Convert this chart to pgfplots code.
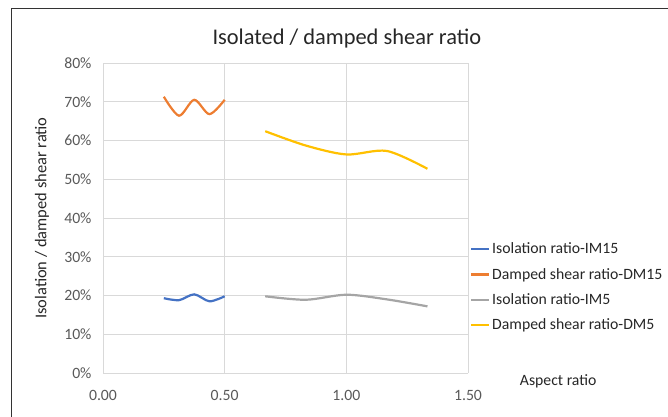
\documentclass[border=0pt]{standalone}
\usepackage{pgfplots}
\pgfplotsset{compat=1.18}
\usepackage{fontspec}
\setmainfont{Carlito}
\definecolor{exblue}{HTML}{4472C4}
\definecolor{exorange}{HTML}{ED7D31}
\definecolor{exgray}{HTML}{A5A5A5}
\definecolor{exyellow}{HTML}{FFC000}
\definecolor{gridc}{HTML}{D9D9D9}
\definecolor{tickc}{HTML}{595959}
\definecolor{textc}{HTML}{262626}
\begin{document}
\begin{tikzpicture}[x=1bp,y=1bp]
\path[use as bounding box] (0,0) rectangle (668,416);
\draw[color=black!80, line width=1bp] (11,-5) -- (11,407) -- (675,407);
\begin{axis}[
  at={(103bp,43bp)}, anchor=south west,
  scale only axis, width=365bp, height=310bp,
  xmin=0, xmax=1.5, ymin=0, ymax=80,
  xtick={0,0.5,1,1.5}, ytick={0,10,...,80},
  major tick length=0pt,
  axis line style={draw=none},
  grid=major,
  major grid style={draw=gridc, line width=0.8bp},
  /pgf/number format/assume math mode=true,
  xticklabel={\pgfmathprintnumber[fixed,precision=2,zerofill]{\tick}},
  yticklabel={\pgfmathprintnumber[fixed,precision=0]{\tick}\%},
  ticklabel style={font=\fontsize{15.8}{19}\selectfont, text=tickc},
  xticklabel style={yshift=-14bp},
  yticklabel style={xshift=-8bp},
  title={Isolated / damped shear ratio},
  title style={at={(axis description cs:0.668,1.061)}, anchor=center, font=\fontsize{22.5}{27}\selectfont, text=textc},
  xlabel={Aspect ratio},
  xlabel style={at={(axis description cs:1.247,-0.026)}, anchor=center, font=\fontsize{15.8}{19}\selectfont, text=textc},
  ylabel={Isolation / damped shear ratio},
  ylabel style={at={(axis description cs:-0.167,0.5)}, anchor=center, font=\fontsize{16.5}{19}\selectfont, text=textc},
  legend style={at={(axis description cs:1.005,0.277)}, anchor=west, draw=none, fill=none,
    font=\fontsize{15.8}{19}\selectfont, text=textc, row sep=9bp, inner sep=0pt},
  legend cell align=left,
  legend image code/.code={\draw[#1, line width=2.2bp] (0bp,0bp) -- (18bp,0bp);},
  every axis plot/.append style={line width=2.2bp, smooth, mark=none},
]
\addplot[exblue] coordinates {(0.25,19.3) (0.3125,18.8) (0.375,20.3) (0.4375,18.5) (0.5,19.8)};
\addlegendentry{Isolation ratio-IM15}
\addplot[exorange] coordinates {(0.25,71.3) (0.3125,66.4) (0.375,70.5) (0.4375,66.8) (0.5,70.5)};
\addlegendentry{Damped shear ratio-DM15}
\addplot[exgray] coordinates {(0.6667,19.8) (0.8333,18.9) (1.0,20.2) (1.1667,19.0) (1.3333,17.2)};
\addlegendentry{Isolation ratio-IM5}
\addplot[exyellow] coordinates {(0.6667,62.4) (0.8333,58.7) (1.0,56.4) (1.1667,57.3) (1.3333,52.7)};
\addlegendentry{Damped shear ratio-DM5}
\end{axis}
\end{tikzpicture}
\end{document}
